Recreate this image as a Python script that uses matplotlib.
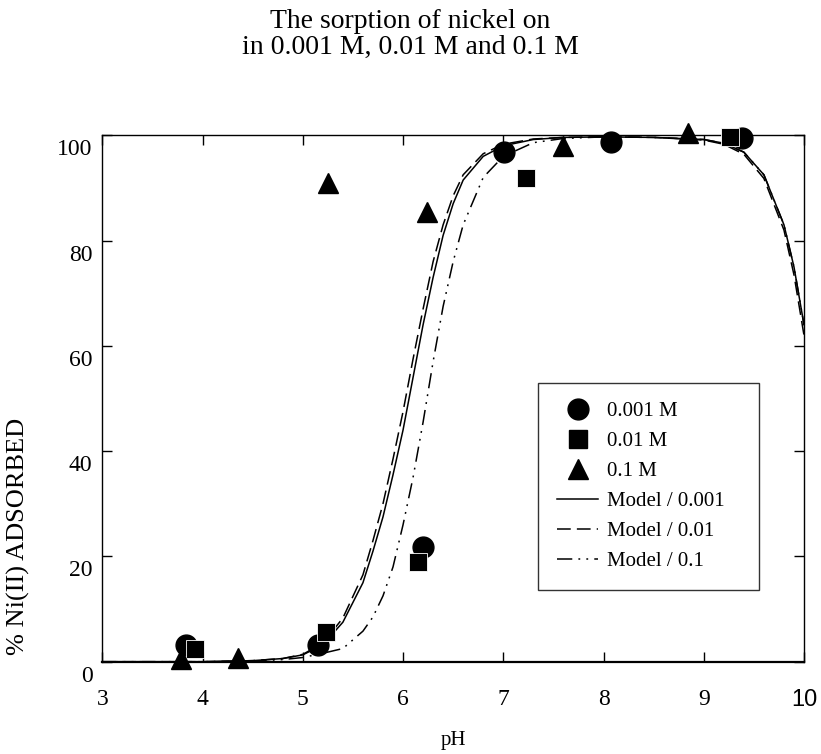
import matplotlib
matplotlib.use("Agg")
import matplotlib.pyplot as plt
import matplotlib.transforms as mtransforms
from matplotlib.lines import Line2D

plt.rcParams['font.family'] = ['Liberation Serif', 'DejaVu Serif']

# ---- data ----
ph_001 = [3.83, 5.15, 6.20, 7.01, 8.07, 9.38]
ads_001 = [3.2, 3.2, 21.7, 96.9, 98.8, 99.5]

ph_01 = [3.92, 5.23, 6.15, 7.23, 9.26]
ads_01 = [2.5, 5.6, 19.0, 91.9, 99.7]

ph_1 = [3.79, 4.35, 5.25, 6.24, 7.60, 8.84]
ads_1 = [0.5, 0.7, 90.9, 85.5, 98.0, 100.4]

model_ph = [3.0, 4.0, 4.5, 4.8, 5.0, 5.2, 5.4, 5.6, 5.7, 5.8, 5.9, 6.0, 6.1, 6.2,
            6.3, 6.4, 6.5, 6.6, 6.8, 7.0, 7.3, 7.6, 8.0, 8.5, 9.0, 9.2, 9.4, 9.6,
            9.8, 9.9, 10.0]
model_001 = [0, 0, 0.2, 0.6, 1.3, 3.2, 7.5, 15, 21, 27.5, 35.5, 44, 54, 64, 73,
             81, 87, 91.5, 96, 98, 99.2, 99.6, 99.7, 99.6, 99.2, 98.5, 96.8, 92.5,
             83, 75, 64]
model_01 = [0, 0, 0.2, 0.6, 1.4, 3.5, 8.3, 16.5, 23, 30, 38.5, 47.5, 57.5, 67, 76,
            83, 88.5, 92.5, 96.5, 98.3, 99.3, 99.6, 99.7, 99.6, 99.1, 98.3, 96.4,
            91.8, 82, 73.5, 62]
model_1 = [0, 0, 0.1, 0.4, 0.8, 1.6, 2.5, 5.8, 8.5, 12.5, 18, 26, 35, 45.5, 57,
           67.5, 76, 83, 92, 96, 98.6, 99.4, 99.7, 99.6, 99.2, 98.5, 96.8, 92.5,
           83, 75, 64]

xticks = [3, 4, 5, 6, 7, 8, 9, 10]
yticks = [0, 20, 40, 60, 80, 100]

title = "The sorption of nickel on\nin 0.001 M, 0.01 M and 0.1 M"
xlabel = "pH"
ylabel = "% Ni(II) ADSORBED"

# ---- figure ----
W, H = 821, 754
fig = plt.figure(figsize=(W / 100, H / 100), dpi=100)
ax = fig.add_axes([102.3 / W, 1 - 661.7 / H, (804 - 102.3) / W, (661.7 - 135.3) / H])

ls_01 = (0, (9, 4))
ls_1 = (0, (10, 4, 1.2, 4, 1.2, 4))

ax.plot(model_ph, model_001, color='black', lw=1.1, ls='-')
ax.plot(model_ph, model_01, color='black', lw=1.1, ls=ls_01)
ax.plot(model_ph, model_1, color='black', lw=1.1, ls=ls_1)

ax.plot(ph_001, ads_001, 'o', color='black', ms=15, clip_on=False, zorder=5)
ax.plot(ph_01, ads_01, 's', color='black', ms=13, clip_on=False, zorder=5,
        mec='white', mew=0.6)
ax.plot(ph_1, ads_1, '^', color='black', ms=15, clip_on=False, zorder=5)

ax.set_xlim(3, 10)
ax.set_ylim(0, 100)
ax.set_xticks(xticks)
ax.set_yticks(yticks)
ax.tick_params(direction='in', length=7, width=1, top=True, right=True,
               labelsize=17)
ax.tick_params(axis='x', pad=20)
ax.tick_params(axis='y', pad=7)
for s in ax.spines.values():
    s.set_linewidth(1.0)
ax.spines['bottom'].set_linewidth(1.6)

# y tick labels sit a bit below their ticks in the reference
off = mtransforms.ScaledTranslation(0, -12 / 100, fig.dpi_scale_trans)
for t in ax.yaxis.get_major_ticks():
    t.label1.set_transform(t.label1.get_transform() + off)
# last x label in sans font
ax.get_xticklabels()[-1].set_fontfamily(['Liberation Sans', 'DejaVu Sans'])

fig.text(0.5, 1 - 22 / H, title.split("\n")[0], ha='center', va='center', fontsize=20)
fig.text(0.5, 1 - 47 / H, title.split("\n")[1], ha='center', va='center', fontsize=20)
fig.text(453 / W, 1 - 741 / H, xlabel, ha='center', va='center', fontsize=15)
fig.text(18 / W, 1 - 536 / H, ylabel, ha='center', va='center', rotation=90, fontsize=19)

handles = [
    Line2D([], [], marker='o', ls='none', color='black', ms=15),
    Line2D([], [], marker='s', ls='none', color='black', ms=13),
    Line2D([], [], marker='^', ls='none', color='black', ms=15),
    Line2D([], [], color='black', lw=1.1, ls='-'),
    Line2D([], [], color='black', lw=1.1, ls=ls_01),
    Line2D([], [], color='black', lw=1.1, ls=ls_1),
]
labels = ["0.001 M", "0.01 M", "0.1 M", "Model / 0.001", "Model / 0.01", "Model / 0.1"]
leg = ax.legend(handles, labels, loc='upper left', mode='expand',
                bbox_to_anchor=(538 / W, 1 - 592 / H, 221 / W, 209 / H),
                bbox_transform=fig.transFigure,
                borderaxespad=0, frameon=True, fancybox=False, edgecolor='black',
                fontsize=15, handlelength=2.0, handletextpad=0.4,
                labelspacing=0.5, borderpad=0.9)
leg.get_frame().set_linewidth(1.0)

fig.savefig("out.png", dpi=100)
